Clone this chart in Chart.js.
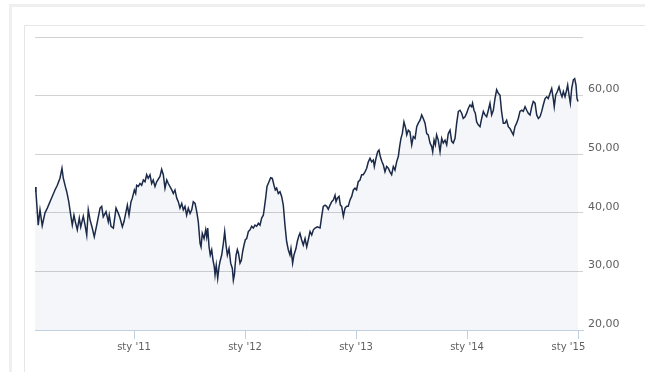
<!DOCTYPE html>
<html>
<head>
<meta charset="utf-8">
<script src="https://cdn.jsdelivr.net/npm/chart.js@4"></script>
<style>
  html, body { margin: 0; padding: 0; background: #fff; }
  #outer { position: absolute; left: 9px; top: 4px; right: 0; bottom: 0;
           border-top: 3px solid #efefef; border-left: 3px solid #efefef; }
  #inner { position: absolute; left: 24px; top: 25px; right: 0; bottom: 0;
           border-top: 1px solid #e6e6e6; border-left: 1px solid #e6e6e6; }
  #chart { position: absolute; left: 0; top: 0; }
</style>
</head>
<body>
<div id="outer"></div>
<div id="inner"></div>
<canvas id="chart" width="645" height="372"></canvas>
<script>
"use strict";

// 1: data (time as decimal year, price)
const dates = [
  2010.108, 2010.117, 2010.132, 2010.137, 2010.153, 2010.173, 2010.198, 2010.219, 2010.243, 2010.268,
  2010.288, 2010.309, 2010.333, 2010.351, 2010.363, 2010.381, 2010.394, 2010.412, 2010.430, 2010.444,
  2010.459, 2010.471, 2010.489, 2010.507, 2010.520, 2010.543, 2010.559, 2010.574, 2010.588, 2010.604,
  2010.624, 2010.642, 2010.664, 2010.694, 2010.709, 2010.723, 2010.748, 2010.768, 2010.777, 2010.793,
  2010.814, 2010.838, 2010.859, 2010.874, 2010.895, 2010.910, 2010.940, 2010.955, 2010.973, 2010.985,
  2011.003, 2011.015, 2011.024, 2011.039, 2011.054, 2011.069, 2011.084, 2011.099, 2011.114, 2011.128,
  2011.144, 2011.159, 2011.173, 2011.189, 2011.204, 2011.234, 2011.249, 2011.264, 2011.279, 2011.295,
  2011.309, 2011.340, 2011.354, 2011.369, 2011.385, 2011.399, 2011.414, 2011.430, 2011.444, 2011.459,
  2011.474, 2011.489, 2011.505, 2011.520, 2011.534, 2011.550, 2011.565, 2011.579, 2011.595, 2011.604,
  2011.615, 2011.631, 2011.646, 2011.655, 2011.664, 2011.676, 2011.687, 2011.700, 2011.712, 2011.723,
  2011.730, 2011.741, 2011.754, 2011.766, 2011.775, 2011.790, 2011.805, 2011.817, 2011.829, 2011.841,
  2011.856, 2011.871, 2011.886, 2011.895, 2011.905, 2011.911, 2011.920, 2011.931, 2011.941, 2011.955,
  2011.967, 2011.979, 2011.991, 2012.003, 2012.015, 2012.030, 2012.045, 2012.060, 2012.075, 2012.090,
  2012.105, 2012.120, 2012.135, 2012.150, 2012.165, 2012.174, 2012.186, 2012.198, 2012.216, 2012.231,
  2012.246, 2012.261, 2012.273, 2012.285, 2012.300, 2012.315, 2012.330, 2012.345, 2012.360, 2012.375,
  2012.390, 2012.405, 2012.414, 2012.429, 2012.441, 2012.459, 2012.471, 2012.484, 2012.495, 2012.510,
  2012.525, 2012.541, 2012.556, 2012.570, 2012.586, 2012.601, 2012.616, 2012.631, 2012.651, 2012.676,
  2012.691, 2012.705, 2012.721, 2012.736, 2012.750, 2012.766, 2012.781, 2012.796, 2012.811, 2012.820,
  2012.832, 2012.847, 2012.859, 2012.871, 2012.886, 2012.901, 2012.916, 2012.930, 2012.946, 2012.961,
  2012.976, 2012.991, 2013.005, 2013.020, 2013.036, 2013.051, 2013.065, 2013.081, 2013.096, 2013.111,
  2013.126, 2013.141, 2013.156, 2013.165, 2013.180, 2013.195, 2013.207, 2013.219, 2013.234, 2013.246,
  2013.261, 2013.276, 2013.291, 2013.306, 2013.321, 2013.336, 2013.351, 2013.366, 2013.381, 2013.393,
  2013.405, 2013.417, 2013.432, 2013.448, 2013.457, 2013.471, 2013.486, 2013.502, 2013.516, 2013.532,
  2013.547, 2013.561, 2013.577, 2013.592, 2013.606, 2013.622, 2013.637, 2013.651, 2013.667, 2013.682,
  2013.691, 2013.703, 2013.715, 2013.726, 2013.741, 2013.757, 2013.772, 2013.786, 2013.802, 2013.817,
  2013.831, 2013.847, 2013.862, 2013.876, 2013.892, 2013.907, 2013.922, 2013.937, 2013.952, 2013.966,
  2013.982, 2013.997, 2014.011, 2014.027, 2014.042, 2014.050, 2014.063, 2014.075, 2014.087, 2014.102,
  2014.117, 2014.132, 2014.147, 2014.162, 2014.177, 2014.192, 2014.207, 2014.222, 2014.237, 2014.252,
  2014.267, 2014.282, 2014.297, 2014.312, 2014.327, 2014.342, 2014.357, 2014.372, 2014.387, 2014.403,
  2014.417, 2014.432, 2014.447, 2014.462, 2014.477, 2014.493, 2014.507, 2014.523, 2014.538, 2014.552,
  2014.568, 2014.583, 2014.597, 2014.613, 2014.628, 2014.643, 2014.658, 2014.673, 2014.687, 2014.703,
  2014.718, 2014.732, 2014.748, 2014.763, 2014.777, 2014.786, 2014.799, 2014.814, 2014.829, 2014.844,
  2014.856, 2014.868, 2014.883, 2014.898, 2014.907, 2014.919, 2014.931, 2014.943, 2014.958, 2014.970,
  2014.982, 2014.991, 2015.000
];

const prices = [
  44.4, 43.4, 39.3, 37.9, 40.5, 37.8, 40.0, 40.8, 41.9, 43.0,
  43.9, 44.7, 45.9, 47.6, 45.9, 44.5, 43.6, 41.9, 39.6, 37.9,
  39.6, 38.5, 37.1, 39.1, 37.6, 39.4, 37.9, 36.2, 40.5, 38.8,
  37.4, 35.9, 37.9, 40.8, 41.1, 39.3, 40.2, 38.5, 39.6, 37.7,
  37.4, 40.8, 39.9, 39.1, 37.6, 38.5, 41.3, 39.6, 41.9, 42.5,
  43.9, 43.3, 44.7, 44.5, 45.0, 44.7, 45.6, 45.3, 46.5, 45.9,
  46.5, 45.0, 45.6, 44.5, 45.3, 46.2, 47.4, 46.5, 44.2, 45.6,
  45.0, 43.9, 43.3, 43.9, 42.5, 41.9, 40.8, 41.6, 40.5, 41.1,
  39.6, 40.8, 39.9, 40.5, 41.9, 41.6, 40.2, 38.5, 34.8, 34.2,
  36.5, 35.6, 37.1, 35.9, 37.4, 34.2, 32.8, 33.7, 31.9, 30.8,
  29.4, 31.1, 28.8, 30.8, 31.7, 32.8, 34.8, 36.8, 34.5, 32.8,
  33.9, 31.4, 30.5, 28.5, 29.5, 31.1, 32.8, 33.7, 33.1, 31.4,
  31.9, 33.4, 34.5, 35.4, 35.6, 36.8, 37.1, 37.7, 37.4, 37.9,
  37.7, 38.2, 37.9, 39.1, 39.6, 40.8, 42.5, 44.5, 45.3, 46.0,
  45.9, 44.7, 43.9, 44.2, 43.3, 43.6, 42.8, 41.3, 37.9, 35.1,
  33.7, 32.8, 33.9, 31.4, 32.8, 33.9, 35.1, 36.0, 36.5, 35.4,
  34.5, 35.6, 34.2, 35.4, 36.8, 36.2, 37.1, 37.4, 37.6, 37.4,
  39.4, 41.1, 41.3, 41.1, 40.6, 41.3, 41.9, 42.2, 43.0, 41.9,
  42.5, 42.8, 41.3, 41.1, 39.4, 40.8, 41.1, 41.1, 42.2, 42.8,
  43.9, 44.2, 43.9, 45.3, 45.6, 46.5, 46.5, 47.0, 47.6, 48.7,
  49.3, 48.7, 49.0, 47.9, 49.3, 50.4, 50.7, 49.6, 48.7, 48.2,
  47.0, 47.9, 47.6, 47.0, 46.5, 47.9, 47.3, 48.7, 49.6, 51.3,
  52.7, 53.5, 55.5, 54.4, 53.3, 54.1, 53.8, 51.6, 53.0, 52.7,
  54.7, 55.3, 55.8, 56.7, 56.1, 55.3, 53.5, 53.3, 51.9, 51.3,
  50.4, 52.4, 51.6, 53.3, 52.4, 50.4, 52.7, 51.9, 52.4, 51.6,
  53.5, 54.1, 52.2, 51.9, 52.7, 55.3, 57.3, 57.5, 57.0, 56.1,
  56.4, 57.0, 57.8, 58.4, 58.1, 58.7, 57.5, 57.0, 55.5, 55.0,
  54.7, 56.1, 57.3, 56.7, 56.4, 57.5, 58.7, 56.7, 57.5, 59.5,
  61.0, 60.4, 60.1, 57.2, 55.3, 55.3, 55.8, 54.7, 54.4, 53.8,
  53.3, 54.7, 55.3, 56.1, 57.3, 57.5, 57.3, 58.1, 57.5, 57.0,
  56.7, 58.1, 59.0, 58.7, 56.7, 56.1, 56.4, 57.3, 58.4, 59.5,
  59.8, 59.5, 60.4, 61.2, 59.5, 58.1, 60.1, 60.7, 61.5, 60.4,
  59.8, 60.7, 59.8, 61.0, 61.8, 60.1, 58.7, 61.2, 62.7, 62.9,
  61.8, 59.5, 59.0
];

// year ticks on the bottom axis
const yearTicks = [2011, 2012, 2013, 2014, 2015];
const yearLabels = ["sty '11", "sty '12", "sty '13", "sty '14", "sty '15"];

// 2: prepare points
let points = [];
for (let i = 0; i < dates.length; i++) {
  points.push({ x: dates[i], y: prices[i] });
}

// 3: chart
new Chart(document.querySelector('#chart'), {
  type: 'line',
  data: {
    datasets: [{
      data: points,
      borderColor: '#1b2a48',
      borderWidth: 1.5,
      // translucent so the grid lines stay visible through the area
      backgroundColor: 'rgba(30,50,110,0.045)',
      fill: 'start',
      pointRadius: 0,
      tension: 0
    }]
  },
  options: {
    responsive: false,
    animation: false,
    layout: { padding: { left: 35, top: 37, right: 0, bottom: 0 } },
    plugins: { legend: { display: false }, tooltip: { enabled: false } },
    scales: {
      x: {
        type: 'linear',
        min: 2010.108,
        max: 2015.045,
        afterBuildTicks: function (scale) {
          scale.ticks = yearTicks.map(v => ({ value: v }));
        },
        afterFit: function (scale) { scale.height = 42; },
        border: { display: true, color: '#c0d0e0', width: 1 },
        grid: {
          drawOnChartArea: false,
          drawTicks: true,
          tickLength: 9,
          color: '#c0d0e0'
        },
        ticks: {
          autoSkip: false,
          maxRotation: 0,
          padding: 2,
          color: '#606060',
          font: { family: 'DejaVu Sans', size: 10 },
          callback: function (v) {
            const k = yearTicks.indexOf(v);
            if (k < 0) return '';
            // last label is pushed left so it stays inside the plot
            return k === yearTicks.length - 1 ? yearLabels[k] + '      ' : yearLabels[k];
          }
        }
      },
      y: {
        position: 'right',
        min: 20,
        max: 70,
        afterFit: function (scale) { scale.width = 62; },
        border: { display: false },
        grid: {
          drawTicks: false,
          color: function (ctx) {
            return ctx.tick && ctx.tick.value === 20 ? 'rgba(0,0,0,0)' : '#d2d2d2';
          }
        },
        ticks: {
          stepSize: 10,
          padding: 5,
          labelOffset: -6,
          color: '#606060',
          font: { family: 'DejaVu Sans', size: 11 },
          callback: function (v) {
            return v >= 70 ? '' : v.toFixed(2).replace('.', ',');
          }
        }
      }
    }
  }
});
</script>
</body>
</html>
